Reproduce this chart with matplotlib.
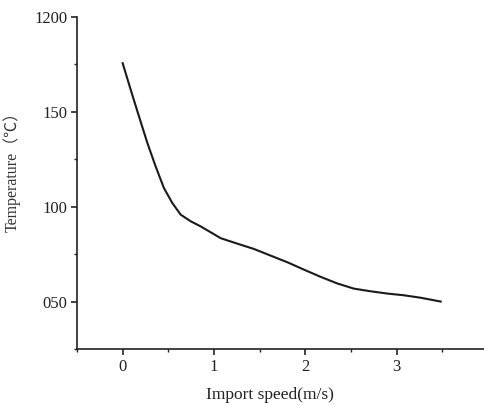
import numpy as np
import matplotlib.pyplot as plt
from matplotlib.ticker import FixedLocator, MultipleLocator

# data
speed = [0.0, 0.088, 0.179, 0.271, 0.361, 0.452, 0.544, 0.635, 0.745, 0.854,
         0.964, 1.073, 1.256, 1.438, 1.621, 1.804, 1.986, 2.169, 2.352, 2.533,
         2.716, 2.899, 3.081, 3.264, 3.483]
temp = [1175.6, 1161.6, 1147.5, 1133.5, 1121.2, 1109.8, 1101.9, 1095.8, 1092.3, 1089.6,
        1086.5, 1083.4, 1080.5, 1077.7, 1074.2, 1070.7, 1066.8, 1063.0, 1059.5, 1056.8,
        1055.4, 1054.2, 1053.3, 1052.0, 1050.0]

ytick_vals = [1050, 1100, 1150, 1200]
ytick_labels = ["050", "100", "150", "1200"]
xtick_vals = [0, 1, 2, 3, 4]

plt.rcParams['font.family'] = ['Liberation Serif', 'Noto Sans CJK SC', 'DejaVu Sans']

fig = plt.figure(figsize=(4.85, 4.05), dpi=100)
ax = fig.add_axes([0.1588, 0.1383, 0.866, 0.820])

ax.plot(speed, temp, color='#1a1a1a', lw=1.5, solid_joinstyle='round')

ax.set_xlim(-0.5, 4.1)
ax.set_ylim(1025, 1200)

ax.yaxis.set_major_locator(FixedLocator(ytick_vals))
ax.set_yticklabels(ytick_labels)
ax.yaxis.set_minor_locator(MultipleLocator(25))
ax.xaxis.set_major_locator(FixedLocator(xtick_vals))
ax.xaxis.set_minor_locator(MultipleLocator(0.5))

for s in ['top', 'right']:
    ax.spines[s].set_visible(False)
for s in ['left', 'bottom']:
    ax.spines[s].set_linewidth(1.2)
    ax.spines[s].set_color('#222222')

ax.tick_params(which='major', length=4, width=1.2, labelsize=12, colors='#222222', pad=3)
ax.tick_params(which='minor', length=2.5, width=1.0, colors='#222222')

ax.set_xlabel('Import speed(m/s)', fontsize=12.5, color='#222222')
ax.set_ylabel('Temperature（℃）', fontsize=11.5, color='#333333')
ax.xaxis.set_label_coords((270 - 77) / 420, -0.115)
ax.yaxis.set_label_coords(-0.135, 0.545)

fig.savefig('out.png', dpi=100)
